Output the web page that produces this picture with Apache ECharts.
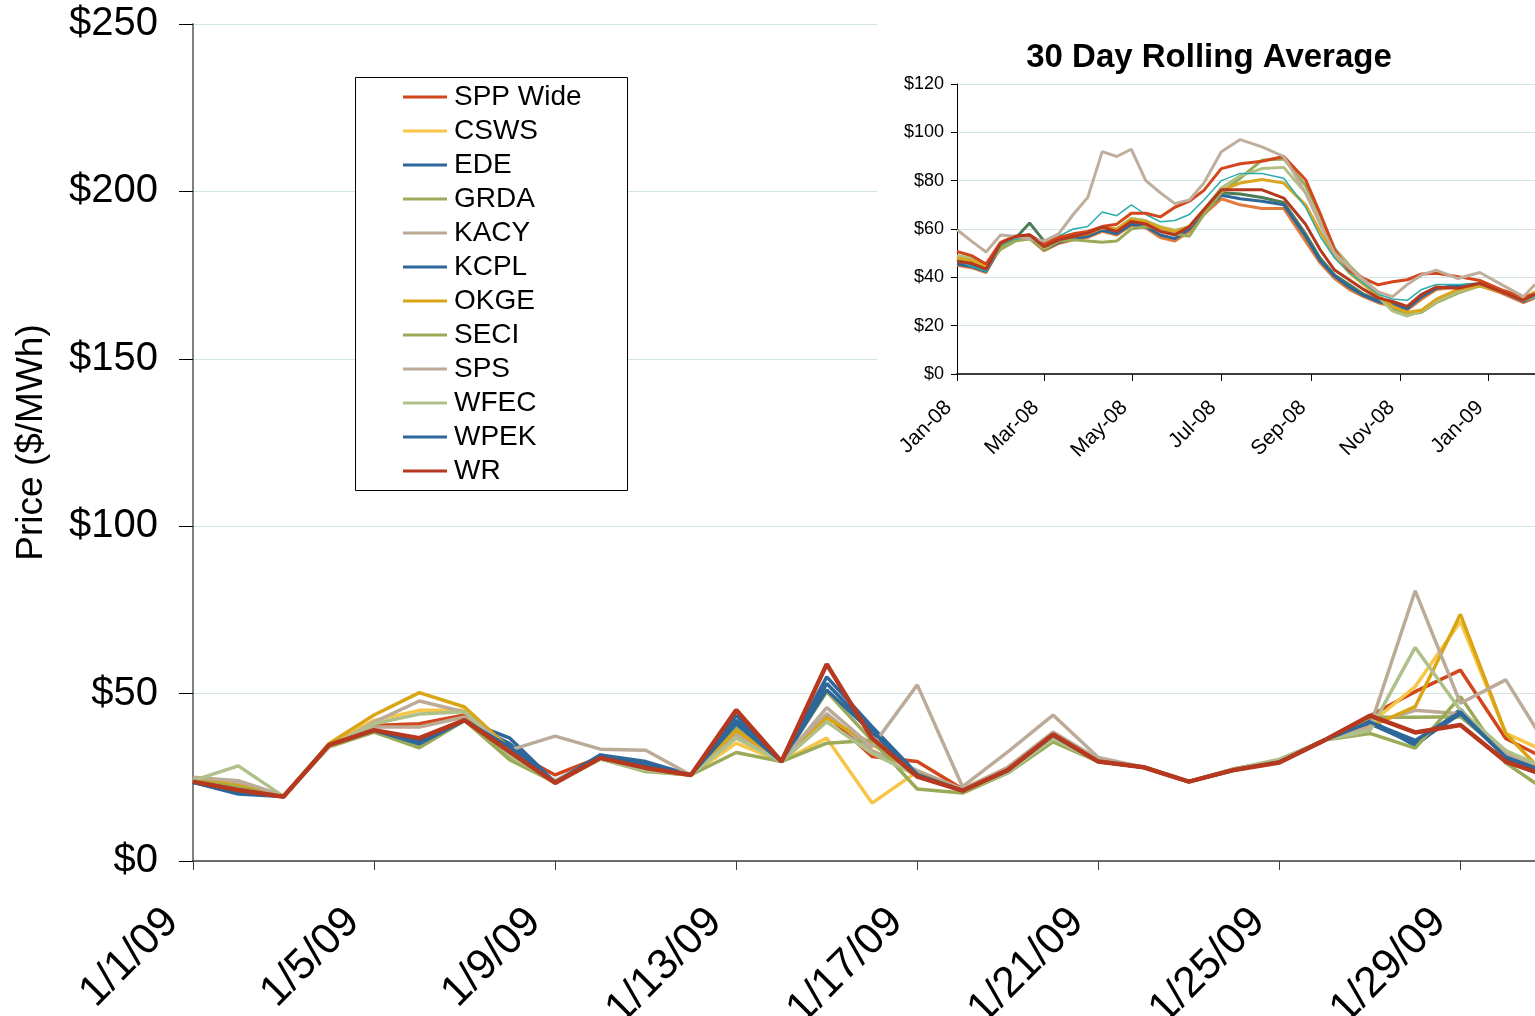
<!DOCTYPE html>
<html><head><meta charset="utf-8">
<script src="https://cdn.jsdelivr.net/npm/echarts@6/dist/echarts.min.js"></script>
<style>html,body{margin:0;padding:0;overflow:hidden;background:#fff}#c{width:1600px;height:1016px}</style>
</head><body><div id="c"></div>
<script>
// ---------- main chart data (daily, January 2009) ----------
const dates = ['1/1/09','1/2/09','1/3/09','1/4/09','1/5/09','1/6/09','1/7/09','1/8/09','1/9/09','1/10/09','1/11/09','1/12/09','1/13/09','1/14/09','1/15/09','1/16/09','1/17/09','1/18/09','1/19/09','1/20/09','1/21/09','1/22/09','1/23/09','1/24/09','1/25/09','1/26/09','1/27/09','1/28/09','1/29/09','1/30/09','1/31/09'];
const seriesNames = ['SPP Wide','CSWS','EDE','GRDA','KACY','KCPL','OKGE','SECI','SPS','WFEC','WPEK','WR'];
const sppWide = [24,22,19.5,34.6,40.5,41,43.6,33,25.7,31,28.5,25.7,38.2,29.7,43.6,31.2,29.7,21.5,27.5,38,29.7,28,23.7,27.2,29.6,36.1,43.4,50.6,57,36.6,29.7];
const csws    = [24.5,22,19.3,34.6,42,45,45,33,23.5,30.5,27.5,25.7,35.2,29.7,36.7,17.3,26.7,21,27,37,29.7,28,23.7,27.2,30,36.1,41,52.1,71.5,38.1,32];
const ede     = [23.5,20,19.3,34.6,39,35.6,42,36.7,23.5,31.7,29.7,25.7,43.5,29.7,55,40.1,26,21,27,37.5,29.7,28,23.7,27.2,29.6,36.1,42.1,34.4,45.3,30.7,25.2];
const grda    = [24,22.5,19.3,34.6,38.5,34.5,42,31,23.5,30.5,27,25.7,40,29.7,50.6,36,25.5,21,26.5,36.5,29.7,28,23.7,27.5,30,36.1,42.9,42.9,43.1,32,26];
const kacy    = [24.5,23,19.4,34.4,40,40,43,33,24,31,28,25.7,38,29.7,44,33,27,21.5,28,38.5,30.5,28,23.7,27.5,30,36.1,41,45,44,32,27];
const kcpl    = [23.5,20.5,19.3,34.6,39,36,42,35,23.5,31.5,29,25.7,42,29.7,51.1,38.5,26,21,27,37.5,29.7,28,23.7,27.2,29.6,36.1,41,35,44,31,26];
const okge    = [24.5,22.5,19.3,35,43.6,50.3,46,33.5,23.5,30.5,27.5,25.7,39,29.7,42.7,35,26,21,27,37,29.7,28,23.7,27.2,30,36.1,40.1,46.1,73.7,38.1,24];
const seci    = [24,22,19.3,34,38.5,33.8,42,30.2,23.5,30.5,26.7,25.7,32.4,29.7,35.2,36.1,21.5,20.3,26.3,35.6,29.7,28,23.7,27.5,30,36.1,38.1,33.7,49.1,29.3,20];
const sps     = [25,24,19.5,34,41.5,47.8,44.5,33.1,37.3,33.4,33.1,25.7,37,29.7,45.8,34.1,52.6,22.2,32.6,43.6,30.9,28,23.7,27.5,30,36.1,40,80.7,47.1,54.1,32.4];
const wfec    = [24,28.4,19.3,34,41,43.9,44.6,31.5,23.5,30.5,27,25.7,36.7,29.7,41.6,32.2,25.5,21,26.5,36.5,29.7,28,23.7,27.5,30.4,36.1,39,63.8,45,33,27];
const wpek    = [23.5,20.5,19.3,34.6,39,35,42,34,23.5,31,28.5,25.7,41,29.7,53,39,25.8,21,27,37.5,29.7,28,23.7,27.2,29.6,36.1,41.5,36,44.5,31,26];
const wr      = [23.7,21.2,19.2,34.6,39.1,36.7,42.1,32.6,23.3,30.8,27.8,25.7,45.1,29.7,58.8,36.7,25.2,21,27.2,37.8,29.7,28,23.7,27.2,29.4,36.1,43.4,38.4,40.6,29.7,25];
const mainValues = [sppWide,csws,ede,grda,kacy,kcpl,okge,seci,sps,wfec,wpek,wr];
const mainColors = ['#d2461e','#f7c548','#2e679a','#9bab5c','#bba994','#2e679a','#d9a514','#9aab58','#bcab98','#b0c08a','#2e679a','#b5381f'];

// ---------- inset: 30 day rolling average (days since 1 Jan 2008) ----------
const insetDays = [0,10,20,30,40,50,60,70,80,90,100,110,120,130,140,150,160,170,182,195,210,225,240,250,260,270,280,290,300,310,320,330,345,360,375,390,398];
const insetTickDays = [0,60,121,182,244,305,366];
const insetTickLabels = ['Jan-08','Mar-08','May-08','Jul-08','Sep-08','Nov-08','Jan-09'];
const avgDarkGreen = [47.5,45.5,43.5,52,56,62.5,55,56,57,57.5,60,58.5,62.5,62,59.5,57.5,60.5,67,75,74.5,73,71,58,48,41,37,33,30.5,29,27.5,32,35.5,36.5,37.5,34.5,30.5,32.5];
const avgOrange    = [45,44,42,52.5,55.5,56,51,54,55.5,56.5,59,57.5,61.5,60.5,56.5,55,59,66,72.5,70,68.5,68.5,55,46,39.5,35,32,29.5,28,26.5,31,35,36,36.5,33.5,29.5,31.5];
const avgBlue      = [45.5,44.5,42.5,53,56,56.5,51.5,54.5,56,57,59.5,58,62,61,57.5,56,60,67,74,72.5,71.5,70,57,47,40.5,36,32.5,30,28.5,27,32,35.5,36.5,37,34,30,32];
const avgSeci      = [48.5,47,45,51.5,55,56,51.5,55,55.5,55,54.5,55,60,61,60,58,57,66,75,81,88.5,89,78,66,52,45,39,32,27,24.5,25.5,29.5,33.5,36.5,34,30.5,32];
const avgWfec      = [49,48,45.5,53,56.5,57,52.5,56,57.5,58.5,60.5,60,64.5,63.5,61,59.5,61,68,77,82,85,85.5,75,64,52,44.5,38,32,26,24,26,30,34,36.5,34,30.5,32];
const avgOkge      = [48,47,44.5,53,56.5,57,52.5,56,57,58,60.5,60,64,63,60.5,59,61,68,76,79,80.5,79,70,59,49,42,37,32.5,28,25.5,26.5,31,35,36.5,34,31,34];
const avgTeal      = [47,44.5,42.5,53,56,56.5,52.5,57,60,61,67,65.5,70,66,63,63.5,66,72,80,83,83,81,69,57,48,42,37.5,33,31,30.5,35,37,37,37,34,30.5,32];
const avgSpp       = [50.7,49,45.5,54.5,57,57.5,54,56.5,58,59,61,62,66.5,66.5,65,69,71.5,76,85,87,88,90,80.4,66.5,51.4,43,39.6,36.9,38.2,39,41.4,41.7,40.3,38.7,34.8,32,33];
const avgKacy      = [59.7,55,50.5,57.5,57,56,55,58,66,73,92,90,93,80,75,70.5,72,79,92,97,94,90,75,62,50,44,39,34,32,37,41,43,39.5,42,37,32,37];
const avgWr        = [46.5,45.8,43.4,54,56.9,57.6,52.7,55.5,56.9,58.3,60.8,59,63.1,62.1,59,57.6,61,68,76.2,76.2,76.2,72.8,62,51.5,43,39,35,31.5,30,28,33,36,35.5,37.5,34,30.5,33];
const insetValues = [avgDarkGreen,avgOrange,avgBlue,avgSeci,avgWfec,avgOkge,avgTeal,avgSpp,avgKacy,avgWr];
const insetNames  = ['avg1','avg2','avg3','avg4','avg5','avg6','avg7','avg8','avg9','avg10'];
const insetColors = ['#4d7d55','#e07b39','#2e679a','#9aab58','#b0c080','#daa520','#2aadad','#d4461c','#bfae9c','#b5381f'];
const insetWidths = [3,3,3,3,3,3,1.5,3,3,3];

const FONT = '"Liberation Sans", Arial, sans-serif';
const chart = echarts.init(document.getElementById('c'), null, {renderer:'canvas'});

const series = [];
mainValues.forEach((vals,i)=>{
  series.push({name:seriesNames[i], type:'line', xAxisIndex:0, yAxisIndex:0, data:vals,
    symbol:'none', lineStyle:{width: i===11?4.5:3.5, color:mainColors[i]}, itemStyle:{color:mainColors[i]},
    z:2, animation:false});
});
insetValues.forEach((vals,i)=>{
  series.push({name:insetNames[i], type:'line', xAxisIndex:1, yAxisIndex:1,
    data: insetDays.map((d,k)=>[d, vals[k]]),
    symbol:'none', lineStyle:{width:insetWidths[i], color:insetColors[i]}, itemStyle:{color:insetColors[i]},
    z:8, animation:false});
});

chart.setOption({
  animation:false,
  backgroundColor:'#fff',
  textStyle:{fontFamily:FONT},
  grid:[
    {left:193, top:24, right:49, bottom:155, outerBoundsMode:'none', containLabel:false},
    {left:957, top:84, right:65, bottom:642, outerBoundsMode:'none', containLabel:false}
  ],
  xAxis:[
    {type:'category', gridIndex:0, data:dates, boundaryGap:false,
      axisLine:{lineStyle:{color:'#404040', width:1.5}},
      axisTick:{interval:3, length:9, lineStyle:{color:'#404040'}},
      axisLabel:{interval:3, rotate:45, fontSize:43, color:'#000', fontFamily:FONT, margin:33, padding:[0,30,0,0]},
      splitLine:{show:false}},
    {type:'value', gridIndex:1, min:0, max:398, z:6,
      axisLine:{lineStyle:{color:'#000', width:1.5}},
      axisTick:{customValues:insetTickDays, length:7, lineStyle:{color:'#000'}},
      axisLabel:{customValues:insetTickDays, rotate:45, fontSize:21, color:'#000', fontFamily:FONT, margin:22, padding:[0,12,0,0],
        formatter:(v)=>{const k=insetTickDays.indexOf(v); return k>=0?insetTickLabels[k]:'';}},
      splitLine:{show:false}}
  ],
  yAxis:[
    {type:'value', gridIndex:0, min:0, max:250, interval:50,
      name:'Price ($/MWh)', nameLocation:'middle', nameRotate:90, nameGap:143,
      nameTextStyle:{fontSize:37, color:'#000', fontFamily:FONT},
      axisLine:{show:true, lineStyle:{color:'#808080', width:2}},
      axisTick:{show:true, length:14, lineStyle:{color:'#000'}},
      axisLabel:{fontSize:40, color:'#000', fontFamily:FONT, margin:35, formatter:(v)=>'$'+v},
      splitLine:{lineStyle:{color:'#d3e4e4', width:1}}},
    {type:'value', gridIndex:1, min:0, max:120, interval:20, z:6,
      axisLine:{show:true, lineStyle:{color:'#000', width:1}},
      axisTick:{show:true, length:6, lineStyle:{color:'#000'}},
      axisLabel:{fontSize:18, color:'#000', fontFamily:FONT, margin:13, formatter:(v)=>'$'+v},
      splitLine:{lineStyle:{color:'#d3e4e4', width:1}}}
  ],
  legend:{
    data:seriesNames, orient:'vertical', left:403, top:82, z:10,
    itemWidth:44, itemHeight:3, icon:'rect', itemGap:4, itemStyle:{borderWidth:0},
    textStyle:{fontSize:28, lineHeight:30, color:'#000', fontFamily:FONT, padding:[0,0,0,2]},
    padding:0, selectedMode:false
  },
  graphic:[
    {type:'rect', z:3, silent:true, shape:{x:877, y:0, width:720, height:500}, style:{fill:'#fff'}},
    {type:'rect', z:3, silent:true, shape:{x:355.5, y:77.5, width:272, height:413}, style:{fill:'#fff', stroke:'#000', lineWidth:1}},
    {type:'text', z:9, silent:true, x:1209, y:58,
      style:{text:'30 Day Rolling Average', font:'bold 33px '+FONT, fill:'#000', textAlign:'center', textVerticalAlign:'middle'}}
  ],
  series:series
});
</script></body></html>
